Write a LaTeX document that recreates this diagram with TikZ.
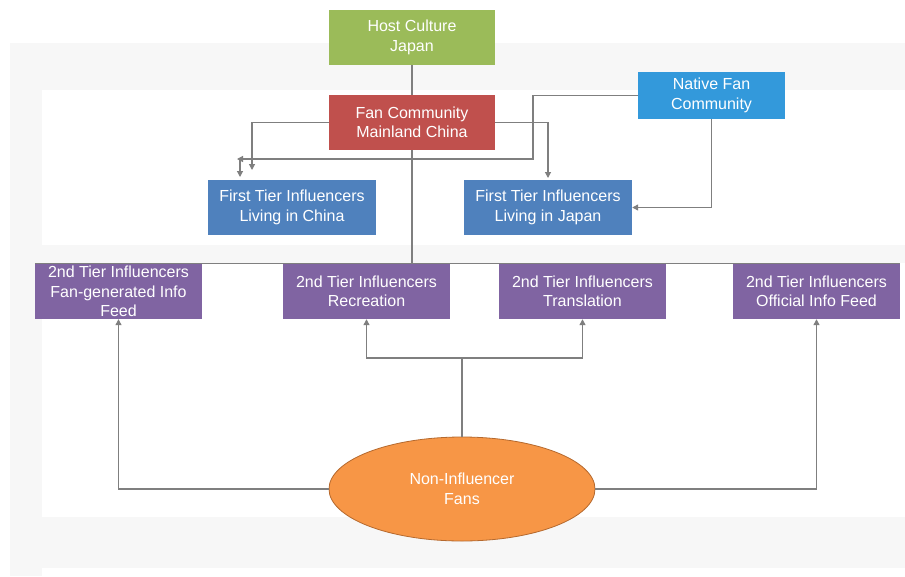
\documentclass[tikz,border=0pt]{standalone}
\usepackage{fontspec}
\setmainfont{Liberation Sans}
\usetikzlibrary{arrows.meta,shapes.geometric}

\definecolor{bandgray}{HTML}{F7F7F7}
\definecolor{hostgreen}{HTML}{9BBB59}
\definecolor{fanred}{HTML}{C0504D}
\definecolor{nativeblue}{HTML}{3399DB}
\definecolor{tierblue}{HTML}{4F81BD}
\definecolor{tierpurple}{HTML}{8064A2}
\definecolor{fansorange}{HTML}{F79646}
\definecolor{fansedge}{HTML}{B5692E}
\definecolor{linkgray}{HTML}{7F7F7F}

\tikzset{
  box/.style={rectangle, inner sep=0pt, text=white, align=center,
    font=\fontsize{16}{19.5}\selectfont},
  topbox/.style={box, minimum width=166pt, minimum height=55pt},
  firstbox/.style={box, fill=tierblue, minimum width=168pt, minimum height=55pt},
  secondbox/.style={box, fill=tierpurple, minimum width=167pt, minimum height=55pt},
  link/.style={draw=linkgray, line width=1.2pt},
  arr/.style={link, -{Triangle[length=6pt,width=6pt]}},
}

\begin{document}
\begin{tikzpicture}[x=1pt,y=-1pt]
  \useasboundingbox (0,0) rectangle (905,576);

  % background bands
  \fill[bandgray] (10,43) rectangle (905,576);
  \fill[white] (42,90) rectangle (905,245);
  \fill[white] (42,263) rectangle (905,517);
  \fill[white] (42,568) rectangle (905,576);

  % top level
  \node[topbox, fill=hostgreen] (host) at (412,37.5) {Host Culture\\Japan};
  \node[topbox, fill=fanred] (fcc) at (412,122.5) {Fan Community\\Mainland China};
  \node[box, fill=nativeblue, minimum width=147pt, minimum height=47pt]
    (native) at (711.5,95.5) {Native Fan\\Community};

  % first tier
  \node[firstbox] (ftc) at (292,207.5) {First Tier Influencers\\Living in China};
  \node[firstbox] (ftj) at (548,207.5) {First Tier Influencers\\Living in Japan};

  % second tier
  \node[secondbox] (s1) at (118.5,291.5) {2nd Tier Influencers\\Fan-generated Info\\Feed};
  \node[secondbox] (s2) at (366.5,291.5) {2nd Tier Influencers\\Recreation};
  \node[secondbox] (s3) at (582.5,291.5) {2nd Tier Influencers\\Translation};
  \node[secondbox] (s4) at (816.5,291.5) {2nd Tier Influencers\\Official Info Feed};

  % fans
  \node[ellipse, fill=fansorange, draw=fansedge, line width=0.8pt,
    minimum width=266pt, minimum height=104pt, inner sep=0pt, text=white,
    align=center, font=\fontsize{16}{19.5}\selectfont]
    (fans) at (462,489) {Non-Influencer\\Fans};

  % free ends of the connectors
  \coordinate (chinaA) at (252,170);
  \coordinate (nativeBend) at (533,159);
  \coordinate (chinaCorner) at (237,159);
  \coordinate (chinaTop) at (240,159);
  \coordinate (chinaB) at (240,177);
  \coordinate (japanA) at (548,178);
  \coordinate (fork) at (462,358);

  % vertical spine and second-tier bus
  \draw[link] (host.south) -- (fcc.north);
  \draw[link] (fcc.south) -- (fcc.south |- s1.north);
  \draw[link] (s1.north west) -- (s4.north east);

  % fan community to first tier
  \draw[arr] (fcc.west) -| (chinaA);
  \draw[arr] (fcc.east) -| (japanA);
  \draw[arr] (native.west) -| (nativeBend) -- (chinaCorner);
  \draw[arr] (chinaTop) -- (chinaB);
  \draw[arr] (native.south) |- (ftj.east);

  % fans to second tier
  \draw[link] (fans.north) -- (fork);
  \draw[arr] (fork) -| (s2.south);
  \draw[arr] (fork) -| (s3.south);
  \draw[arr] (fans.west) -| (s1.south);
  \draw[arr] (fans.east) -| (s4.south);
\end{tikzpicture}
\end{document}
